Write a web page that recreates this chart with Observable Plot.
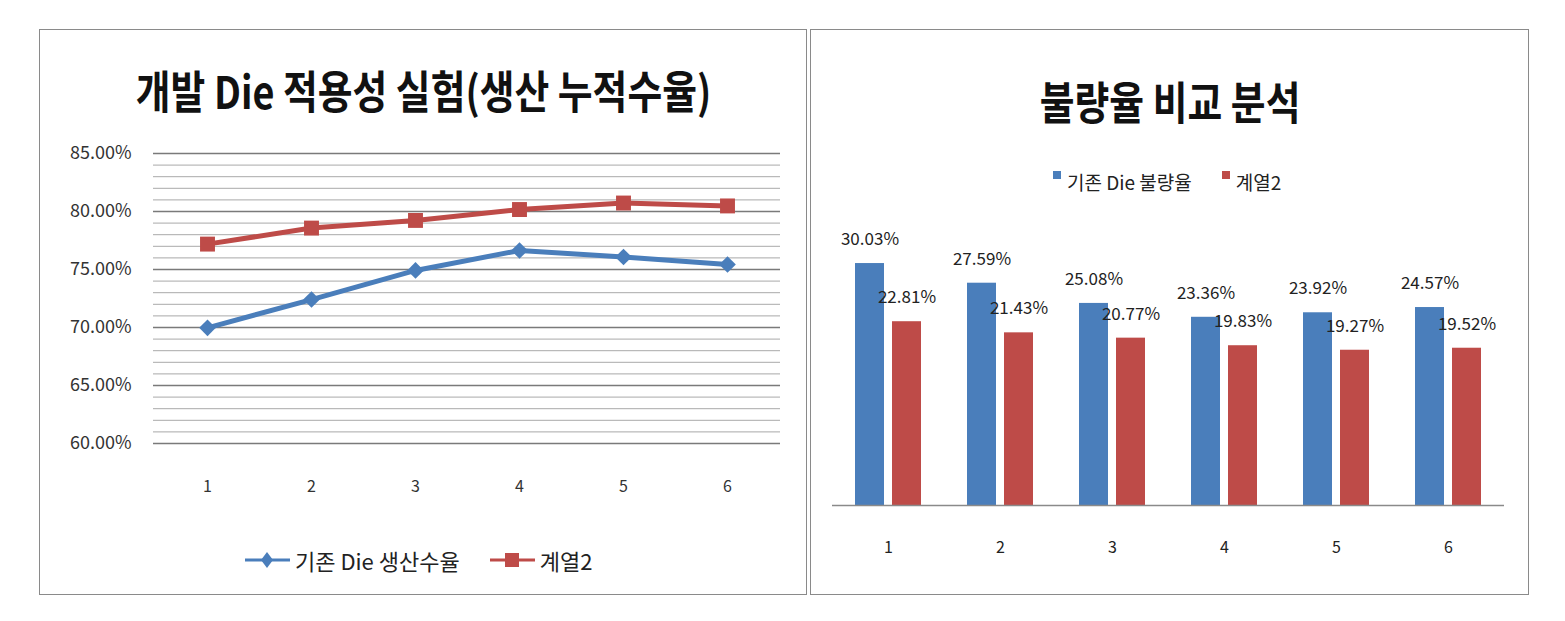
<!DOCTYPE html>
<html>
<head>
<meta charset="utf-8">
<script src="https://cdn.jsdelivr.net/npm/d3@7"></script>
<script src="https://cdn.jsdelivr.net/npm/@observablehq/plot@0.6"></script>
<style>
  html, body { margin: 0; padding: 0; background: #fff; }
  body { width: 1565px; height: 621px; position: relative; overflow: hidden; font-family: "Noto Sans CJK KR", "Noto Sans", sans-serif; color: #222; }
  .panel { position: absolute; border: 1px solid #8a8a8a; box-sizing: border-box; background: #fff; }
  .title { position: absolute; font-weight: 700; font-size: 45px; color: #111; white-space: nowrap; transform-origin: center center; line-height: 1; }
  .abs { position: absolute; }
  .leg { position: absolute; white-space: nowrap; display: flex; align-items: center; color: #222; }
</style>
</head>
<body>
<div class="panel" style="left:39px; top:29px; width:768px; height:566px;"></div>
<div class="panel" style="left:810px; top:29px; width:719px; height:566px;"></div>

<div id="t1" class="title"></div>
<div id="t2" class="title"></div>

<div id="leftPlot" class="abs" style="left:40px; top:125px;"></div>
<div id="rightPlot" class="abs" style="left:810px; top:200px;"></div>

<div id="leg1" class="leg" style="left:245px; top:546px; height:28px; font-size:22px;"></div>
<div id="leg2" class="leg" style="left:1053px; top:168px; height:26px; font-size:19px;"></div>

<script>
// ---------- data ----------
const categories = [1, 2, 3, 4, 5, 6];
const seriesNames = ["기존 Die 생산수율", "계열2"];
const barSeriesNames = ["기존 Die 불량율", "계열2"];
const yieldExisting = [69.97, 72.41, 74.92, 76.64, 76.08, 75.43];   // %
const yieldNew = [77.19, 78.57, 79.23, 80.17, 80.73, 80.48];        // %
const defectExisting = [30.03, 27.59, 25.08, 23.36, 23.92, 24.57];  // %
const defectNew = [22.81, 21.43, 20.77, 19.83, 19.27, 19.52];       // %
const yTicksLeft = [60, 65, 70, 75, 80, 85];
const yMinorLeft = d3.range(60, 86, 1);
const titleLeft = "개발 Die 적용성 실험(생산 누적수율)";
const titleRight = "불량율 비교 분석";

const colorBlue = "#4a7ebb";
const colorRed = "#be4b48";
const FONT = "'Noto Sans CJK KR', 'Noto Sans', sans-serif";

// ---------- titles ----------
const t1 = document.getElementById("t1");
t1.textContent = titleLeft;
const t2 = document.getElementById("t2");
t2.textContent = titleRight;
function placeTitle(el, cx, cy, sx) {
  const w = el.offsetWidth, h = el.offsetHeight;
  el.style.left = (cx - w / 2) + "px";
  el.style.top = (cy - h / 2) + "px";
  el.style.transform = `scaleX(${sx})`;
}
placeTitle(t1, 423, 89, 0.84);
placeTitle(t2, 1170, 100, 0.84);

// ---------- left line chart ----------
const lineData = [];
categories.forEach((c, i) => {
  lineData.push({cat: c, series: seriesNames[0], value: yieldExisting[i]});
  lineData.push({cat: c, series: seriesNames[1], value: yieldNew[i]});
});

const left = Plot.plot({
  width: 766,
  height: 375,
  marginLeft: 113,
  marginRight: 26,
  marginTop: 28,
  marginBottom: 57,
  style: {fontFamily: FONT, color: "#333", background: "transparent"},
  x: {type: "point", domain: categories, padding: 0.5},
  y: {domain: [60, 85]},
  color: {domain: seriesNames, range: [colorBlue, colorRed]},
  marks: [
    Plot.ruleY(yMinorLeft.filter(v => v % 5 !== 0), {stroke: "#a9a9a9", strokeWidth: 1}),
    Plot.ruleY(yTicksLeft, {stroke: "#7a7a7a", strokeWidth: 1.3}),
    Plot.axisY({ticks: yTicksLeft, tickSize: 0, tickPadding: 22, tickFormat: d => d.toFixed(2) + "%", fontSize: 18, label: null}),
    Plot.axisX({tickSize: 0, tickPadding: 37, fontSize: 16, label: null}),
    Plot.line(lineData, {x: "cat", y: "value", stroke: "series", strokeWidth: 5}),
    Plot.dot(lineData.filter(d => d.series === seriesNames[0]), {x: "cat", y: "value", symbol: "diamond2", r: 7.5, fill: colorBlue, stroke: null}),
    Plot.dot(lineData.filter(d => d.series === seriesNames[1]), {x: "cat", y: "value", symbol: "square2", r: 9.5, fill: colorRed, stroke: null})
  ]
});
document.getElementById("leftPlot").appendChild(left);

// ---------- right bar chart ----------
const barData = [];
categories.forEach((c, i) => {
  barData.push({cat: c, series: barSeriesNames[0], value: defectExisting[i]});
  barData.push({cat: c, series: barSeriesNames[1], value: defectNew[i]});
});

const right = Plot.plot({
  width: 718,
  height: 370,
  marginLeft: 22,
  marginRight: 24,
  marginTop: 23,
  marginBottom: 65,
  style: {fontFamily: FONT, color: "#222", background: "transparent"},
  facet: {marginTop: 0, marginBottom: 0, marginLeft: 0, marginRight: 0},
  fx: {domain: categories, padding: 0},
  x: {domain: barSeriesNames, paddingInner: 0.216, paddingOuter: 0.62, axis: null},
  y: {domain: [0, 35], axis: null},
  color: {domain: barSeriesNames, range: [colorBlue, colorRed]},
  marks: [
    Plot.barY(barData, {fx: "cat", x: "series", y: "value", fill: "series"}),
    Plot.ruleY([0], {stroke: "#8a8a8a", strokeWidth: 1.5}),
    Plot.text(barData, {fx: "cat", x: "series", y: "value", text: d => d.value.toFixed(2) + "%", dy: -24, fontSize: 17, fill: "#222"}),
    Plot.axisFx({anchor: "bottom", tickSize: 0, tickPadding: 36, fontSize: 16, label: null})
  ]
});
document.getElementById("rightPlot").appendChild(right);

// ---------- legends ----------
function lineIcon(color, symbol) {
  const s = symbol === "diamond"
    ? `<path d="M22,3 L28,11 L22,19 L16,11 Z" fill="${color}"/>`
    : `<rect x="15" y="4" width="14" height="14" fill="${color}"/>`;
  return `<svg width="45" height="22" style="margin-right:5px"><line x1="0" y1="11" x2="45" y2="11" stroke="${color}" stroke-width="3"/>${s}</svg>`;
}
document.getElementById("leg1").innerHTML =
  lineIcon(colorBlue, "diamond") + `<span>${seriesNames[0]}</span>` +
  `<span style="display:inline-block;width:30px"></span>` +
  lineIcon(colorRed, "square") + `<span>${seriesNames[1]}</span>`;

function sq(color) {
  return `<svg width="12" height="26" style="margin-right:2px"><rect x="0" y="3" width="8" height="8" fill="${color}"/></svg>`;
}
document.getElementById("leg2").innerHTML =
  sq(colorBlue) + `<span>${barSeriesNames[0]}</span>` +
  `<span style="display:inline-block;width:30px"></span>` +
  sq(colorRed) + `<span>${barSeriesNames[1]}</span>`;
</script>
</body>
</html>
